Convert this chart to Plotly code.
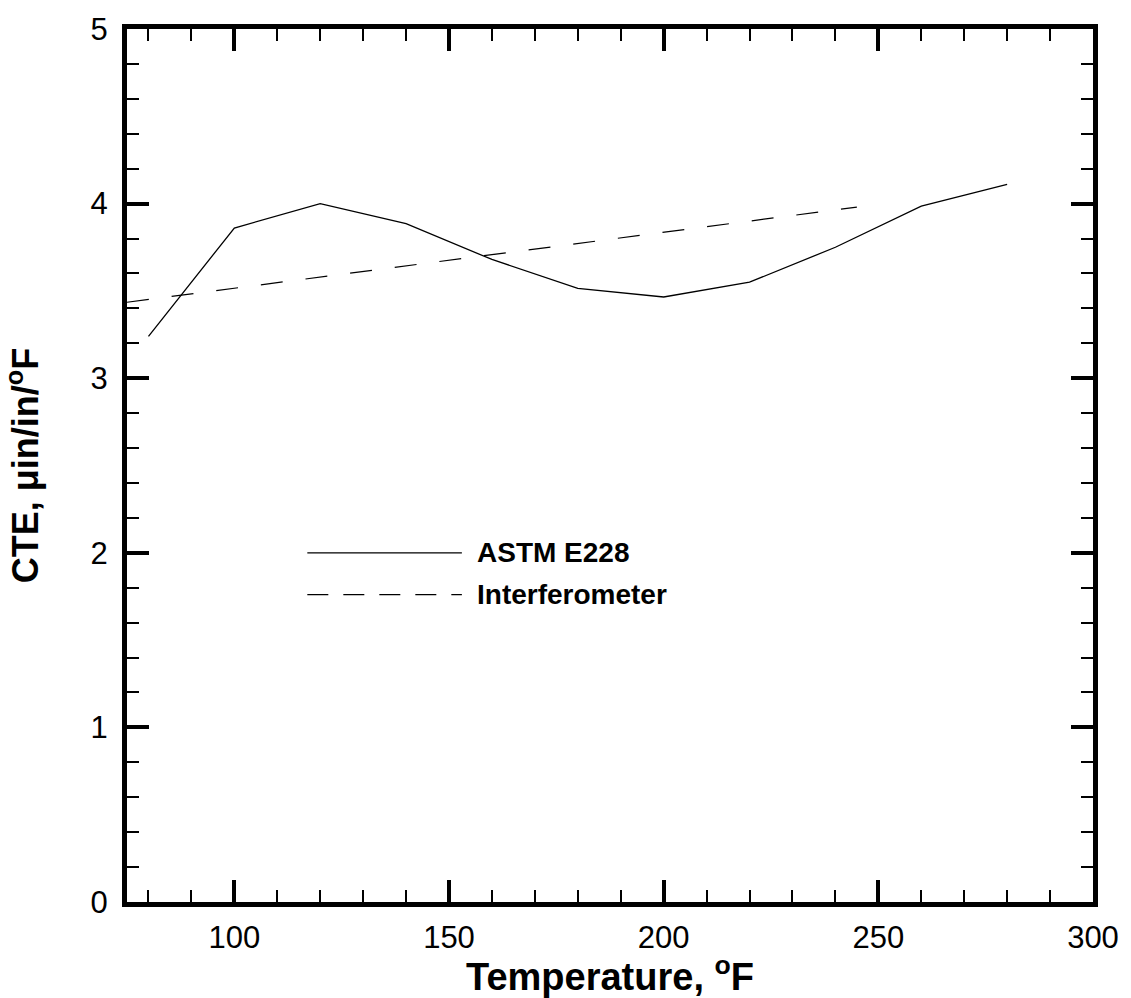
import plotly.graph_objects as go

# Temperature (°F) and coefficient of thermal expansion (µin/in/°F)
astm_temp = [80, 100, 120, 140, 160, 180, 200, 220, 240, 260, 280]
astm_cte = [3.24, 3.86, 4.00, 3.885, 3.68, 3.515, 3.465, 3.55, 3.75, 3.985, 4.11]

interf_temp = [75, 245]
interf_cte = [3.435, 3.98]

series_names = ["ASTM E228", "Interferometer"]

FONT = "Liberation Sans, Arial, Helvetica, sans-serif"

fig = go.Figure()
fig.add_trace(go.Scatter(x=astm_temp, y=astm_cte, mode="lines", name=series_names[0],
                         line=dict(color="black", width=1.3), showlegend=False))
fig.add_trace(go.Scatter(x=interf_temp, y=interf_cte, mode="lines", name=series_names[1],
                         line=dict(color="black", width=1.2, dash="22px,23px"), showlegend=False))

# Hand-placed key, drawn in data coordinates inside the frame
key_x0, key_x1, key_text_x = 117, 153, 156
key_rows = [(2.0, "solid"), (1.76, "21px,15px")]
for (ky, dash), name in zip(key_rows, series_names):
    fig.add_shape(type="line", xref="x", yref="y", x0=key_x0, x1=key_x1, y0=ky, y1=ky,
                  line=dict(color="black", width=1.2, dash=dash))
    fig.add_annotation(x=key_text_x, y=ky, xref="x", yref="y", text=name, showarrow=False,
                       xanchor="left", yanchor="middle",
                       font=dict(family=FONT, size=28, color="black", weight="bold"))

axis_common = dict(
    showline=True, linecolor="black", linewidth=5, mirror="allticks",
    ticks="inside", ticklen=22, tickwidth=4, tickcolor="black",
    showgrid=False, zeroline=False,
    tickfont=dict(family=FONT, size=31, color="black"),
)

fig.update_xaxes(
    range=[75, 300], tickvals=[100, 150, 200, 250, 300],
    minor=dict(dtick=10, tick0=0, ticks="inside", ticklen=12, tickwidth=1.5, tickcolor="black"),
    title=dict(text="Temperature, <sup>o</sup>F", standoff=4,
               font=dict(family=FONT, size=38, color="black", weight="bold")),
    ticklabelstandoff=4,
    **axis_common,
)
fig.update_yaxes(
    range=[0, 5], tickvals=[0, 1, 2, 3, 4, 5],
    minor=dict(dtick=0.2, tick0=0, ticks="inside", ticklen=12, tickwidth=1.5, tickcolor="black"),
    title=dict(text="CTE, μin/in/<sup>o</sup>F", standoff=44,
               font=dict(family=FONT, size=36, color="black", weight="bold")),
    ticklabelstandoff=8,
    **axis_common,
)

fig.update_layout(
    width=1131, height=998,
    margin=dict(l=127, r=38, t=20, b=86),
    paper_bgcolor="white", plot_bgcolor="white",
    showlegend=False,
)

fig.write_html("out.html")
